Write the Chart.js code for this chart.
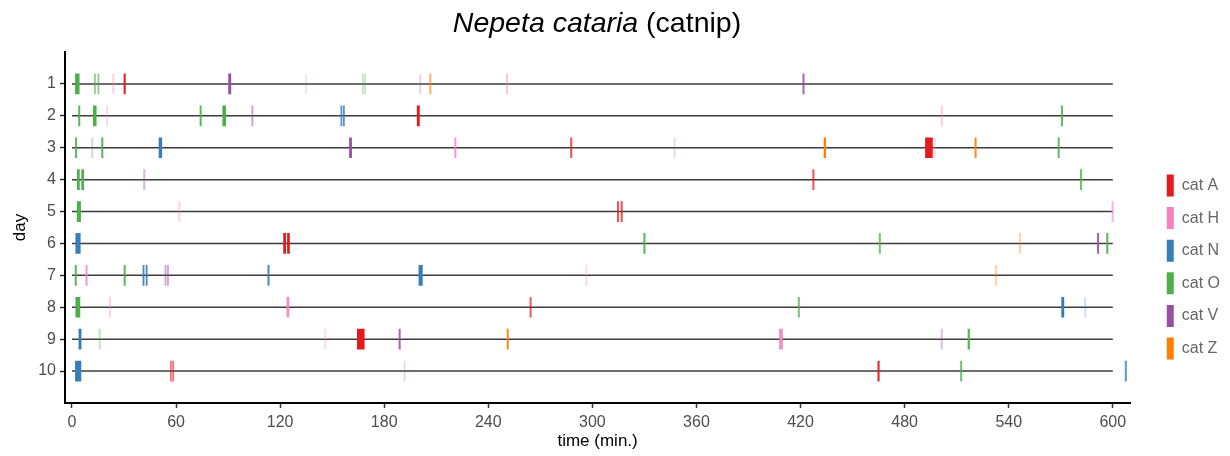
<!DOCTYPE html>
<html><head><meta charset="utf-8">
<script src="https://cdn.jsdelivr.net/npm/chart.js@4.4.0/dist/chart.umd.min.js"></script>
<style>
html,body{margin:0;padding:0;background:#fff;}
#wrap{position:relative;width:1230px;height:456px;}
#title{position:absolute;left:0;top:6px;width:1194px;text-align:center;font-family:"Liberation Sans",Arial,sans-serif;font-size:28.5px;color:#000;}
canvas{position:absolute;left:0;top:0;}
</style></head><body>
<div id="wrap"><canvas id="c" width="1230" height="456"></canvas><div id="title"><i>Nepeta cataria</i> (catnip)</div></div>
<script>
const days = [1, 2, 3, 4, 5, 6, 7, 8, 9, 10];
const xTicks = [0, 60, 120, 180, 240, 300, 360, 420, 480, 540, 600];
const catNames = ['cat A', 'cat H', 'cat N', 'cat O', 'cat V', 'cat Z'];
const catColors = ['#E41A1C', '#F781BF', '#377EB8', '#4DAF4A', '#984EA3', '#FF7F00'];

// events: [day, start (min), end (min), opacity]
const catA = [
  [1, 30, 30.8, 1], [2, 199, 200.3, 1], [3, 287.4, 288.2, 0.75], [3, 492, 496, 1],
  [4, 427, 427.8, 0.75], [5, 314.4, 315.2, 0.75], [5, 316.5, 317.3, 0.75],
  [6, 122, 123.2, 1], [6, 124.2, 125.4, 1], [8, 264, 264.8, 0.7], [9, 164.5, 168.5, 1],
  [10, 56.7, 57.4, 0.6], [10, 58, 58.7, 0.6], [10, 464.5, 465.4, 0.9]
];
const catH = [
  [1, 23.4, 24.2, 0.35], [1, 250.4, 251.2, 0.45], [2, 19.8, 20.6, 0.3], [2, 501, 501.8, 0.4],
  [3, 220.6, 221.4, 0.8], [3, 497, 497.7, 0.3], [5, 61.5, 62.3, 0.35], [5, 599.5, 600.3, 0.6],
  [7, 8, 8.8, 0.8], [7, 296.2, 297, 0.3], [8, 21.5, 22.3, 0.35], [8, 123.9, 125.1, 0.9],
  [9, 145.6, 146.4, 0.3], [9, 407.8, 409.6, 0.9]
];
const catN = [
  [2, 155, 155.7, 0.8], [2, 156.4, 157.1, 0.8], [3, 50.2, 51.8, 1], [6, 2.2, 4.8, 1],
  [7, 40.9, 41.6, 0.9], [7, 42.7, 43.4, 0.9], [7, 112.9, 113.7, 0.9], [7, 200, 202, 1],
  [8, 570.5, 571.8, 1], [8, 583.7, 584.5, 0.25], [9, 4, 5.3, 1], [10, 2, 5.2, 1],
  [10, 607.1, 607.9, 0.8]
];
const catO = [
  [1, 2, 4.2, 1], [1, 12.9, 13.6, 0.6], [1, 14.9, 15.6, 0.6], [1, 167.3, 167.9, 0.35], [1, 168.6, 169.2, 0.35],
  [2, 3.8, 4.6, 0.9], [2, 12.3, 14, 1], [2, 73.8, 74.6, 0.9], [2, 86.9, 88.6, 1], [2, 570.3, 571.1, 0.85],
  [3, 2, 2.8, 0.9], [3, 17.1, 17.9, 0.9], [3, 568.4, 569.2, 0.85],
  [4, 3.1, 4.3, 1], [4, 5.6, 6.8, 1], [4, 581.3, 582.1, 0.8],
  [5, 3, 5, 1], [6, 329.6, 330.4, 0.9], [6, 465.3, 466.1, 0.75], [6, 596.4, 597.2, 0.9],
  [7, 1.8, 2.6, 0.9], [7, 30, 30.8, 0.9], [8, 2.2, 4.6, 1], [8, 418.6, 419.4, 0.75],
  [9, 15.6, 16.4, 0.35], [9, 516.5, 517.5, 0.9], [10, 512.2, 513, 0.8]
];
const catV = [
  [1, 90.3, 91.6, 1], [1, 134.6, 135.4, 0.15], [1, 200.4, 201.1, 0.25], [1, 421.3, 422.1, 0.85],
  [2, 103.6, 104.4, 0.5], [3, 11.4, 12.1, 0.3], [3, 160, 161.2, 1], [3, 347, 347.8, 0.2],
  [4, 41.3, 42.1, 0.4], [6, 591.1, 591.9, 0.9], [7, 53.6, 54.3, 0.5], [7, 55, 55.7, 0.5],
  [9, 188.5, 189.3, 0.85], [9, 501, 501.8, 0.35], [10, 191.4, 192.2, 0.2]
];
const catZ = [
  [1, 206.2, 207, 0.6], [3, 433.5, 434.5, 1], [3, 520.5, 521.3, 0.9],
  [6, 546.1, 546.9, 0.35], [7, 532.2, 533, 0.35], [9, 250.8, 251.6, 0.9]
];
const catEvents = [catA, catH, catN, catO, catV, catZ];

function rgba(hex, a) {
  const n = parseInt(hex.slice(1), 16);
  return `rgba(${(n >> 16) & 255},${(n >> 8) & 255},${n & 255},${a})`;
}

Chart.defaults.font.family = '"Liberation Sans", Arial, sans-serif';

const barSets = catEvents.map((evs, i) => ({
  type: 'bar',
  label: catNames[i],
  data: evs.map(e => ({ y: e[0], x: [e[1], e[2]], a: e[3] })),
  backgroundColor: ctx => (ctx.raw && ctx.raw.a !== undefined) ? rgba(catColors[i], ctx.raw.a) : catColors[i],
  borderWidth: 0,
  barThickness: 20,
  grouped: false,
  xAxisID: 'x', yAxisID: 'y',
  order: 0
}));

const lineSets = days.map(d => ({
  type: 'line',
  label: 'day' + d,
  data: [{ x: 0, y: d }, { x: 600, y: d }],
  borderColor: '#3c3c3c',
  borderWidth: 1.5,
  pointRadius: 0,
  fill: false,
  xAxisID: 'x', yAxisID: 'y',
  order: 5
}));

new Chart(document.getElementById('c'), {
  type: 'bar',
  data: { datasets: [...barSets, ...lineSets] },
  options: {
    indexAxis: 'y',
    responsive: false,
    animation: false,
    devicePixelRatio: 1,
    layout: { padding: { top: 52, left: 0, right: 0, bottom: 0 } },
    plugins: {
      tooltip: { enabled: false },
      title: { display: false },
      legend: {
        position: 'right',
        align: 'center',
        title: { display: true, text: ' ', font: { size: 10 }, padding: { top: 14, bottom: 0 } },
        labels: {
          boxWidth: 7, boxHeight: 22, padding: 10.6,
          font: { size: 16 }, color: '#000',
          generateLabels: () => catNames.map((n, i) => ({
            text: n, fillStyle: catColors[i], strokeStyle: catColors[i], lineWidth: 0, hidden: false, datasetIndex: i
          }))
        }
      }
    },
    scales: {
      x: {
        type: 'linear', position: 'bottom', min: -4, max: 610, offset: false,
        afterBuildTicks: s => { s.ticks = xTicks.map(v => ({ value: v })); },
        afterFit: s => { s.height = 53; },
        ticks: { font: { size: 16 }, color: '#4d4d4d', padding: 5, maxRotation: 0 },
        grid: { offset: false, drawOnChartArea: false, drawTicks: true, tickLength: 5, color: '#333', tickWidth: 1.5 },
        border: { display: true, color: '#000', width: 2 },
        title: { display: true, text: 'time (min.)', font: { size: 17 }, color: '#000', padding: { top: 2, bottom: 4 } }
      },
      y: {
        type: 'linear', position: 'left', min: 0, max: 11, reverse: true, offset: false,
        afterBuildTicks: s => { s.ticks = days.map(v => ({ value: v })); },
        afterFit: s => { s.width = 65; },
        ticks: { font: { size: 16 }, color: '#4d4d4d', padding: 4 },
        grid: { offset: false, drawOnChartArea: false, drawTicks: true, tickLength: 5, color: '#333', tickWidth: 1.5 },
        border: { display: true, color: '#000', width: 2 },
        title: { display: true, text: 'day', font: { size: 17 }, color: '#000', padding: { top: 10, bottom: 4 } }
      },
      gap: {
        type: 'linear', position: 'right', display: true,
        grid: { display: false }, ticks: { display: false }, border: { display: false },
        afterFit: s => { s.width = 26; }
      }
    }
  }
});
</script>
</body></html>
